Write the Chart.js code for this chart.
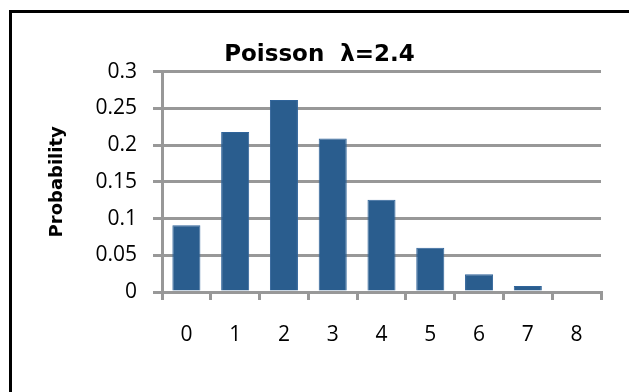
<!DOCTYPE html>
<html>
<head>
<meta charset="utf-8">
<script src="https://cdn.jsdelivr.net/npm/chart.js@4/dist/chart.umd.min.js"></script>
<style>
  html, body { margin: 0; padding: 0; background: #ffffff; }
  #wrap { position: relative; width: 629px; height: 392px; }
</style>
</head>
<body>
<div id="wrap"><canvas id="chart" width="629" height="392"></canvas></div>
<script>
// Poisson distribution, lambda = 2.4
const categories = ['0', '1', '2', '3', '4', '5', '6', '7', '8'];
const probabilities = [0.0907, 0.2177, 0.2613, 0.2090, 0.1254, 0.0602, 0.0241, 0.0083, 0.002];
const yTicks = [0, 0.05, 0.1, 0.15, 0.2, 0.25, 0.3];
const chartTitle = 'Poisson  \u03bb=2.4';
const yTitle = 'Probability';

const GRID = '#989898';
const BAR = '#2a5d8e';

// black frame around the chart (right and bottom run past the window)
const framePlugin = {
  id: 'frame',
  beforeDraw(chart) {
    const ctx = chart.ctx;
    ctx.save();
    ctx.fillStyle = '#ffffff';
    ctx.fillRect(0, 0, chart.width, chart.height);
    ctx.strokeStyle = '#000000';
    ctx.lineWidth = 3;
    ctx.strokeRect(10.5, 11.5, 700, 500);
    ctx.restore();
  },
  // centre the title inside the framed box rather than the padded layout box
  afterLayout(chart) {
    if (chart.titleBlock) {
      chart.titleBlock.left = 10;
      chart.titleBlock.right = 629;
    }
  }
};

new Chart(document.getElementById('chart'), {
  type: 'bar',
  data: {
    labels: categories,
    datasets: [{
      data: probabilities,
      backgroundColor: BAR,
      borderColor: '#30649a',
      borderWidth: { top: 1, left: 1, right: 1, bottom: 0 },
      borderSkipped: 'bottom',
      barPercentage: 0.575,
      categoryPercentage: 1.0
    }]
  },
  options: {
    responsive: false,
    animation: false,
    layout: { padding: { top: 0, right: 28, bottom: 0, left: 0 } },
    plugins: {
      legend: { display: false },
      tooltip: { enabled: false },
      title: {
        display: true,
        text: chartTitle,
        color: '#000000',
        font: { family: 'DejaVu Sans', size: 23, weight: 'bold' },
        padding: { top: 41, bottom: 3 }
      }
    },
    scales: {
      x: {
        z: 1,
        grid: {
          display: true,
          drawOnChartArea: false,
          drawTicks: true,
          tickLength: 8,
          color: GRID,
          lineWidth: 3,
          offset: true
        },
        border: { display: true, color: GRID, width: 3 },
        ticks: {
          color: '#000000',
          font: { family: 'Open Sans', size: 21 },
          padding: 22,
          maxRotation: 0
        },
        afterFit(scale) { scale.height = 100; }
      },
      y: {
        min: 0,
        max: 0.3,
        afterBuildTicks(scale) {
          scale.ticks = yTicks.map(v => ({ value: v }));
        },
        grid: {
          color: GRID,
          lineWidth: 3,
          drawTicks: true,
          tickLength: 9
        },
        border: { display: true, color: GRID, width: 3 },
        ticks: {
          color: '#000000',
          font: { family: 'Open Sans', size: 21 },
          padding: 16,
          callback: v => String(v)
        },
        title: {
          display: true,
          text: yTitle,
          color: '#000000',
          font: { family: 'DejaVu Sans', size: 18, weight: 'bold' },
          padding: { top: 47, bottom: 0 }
        },
        afterFit(scale) { scale.width = 162; }
      }
    }
  },
  plugins: [framePlugin]
});
</script>
</body>
</html>
